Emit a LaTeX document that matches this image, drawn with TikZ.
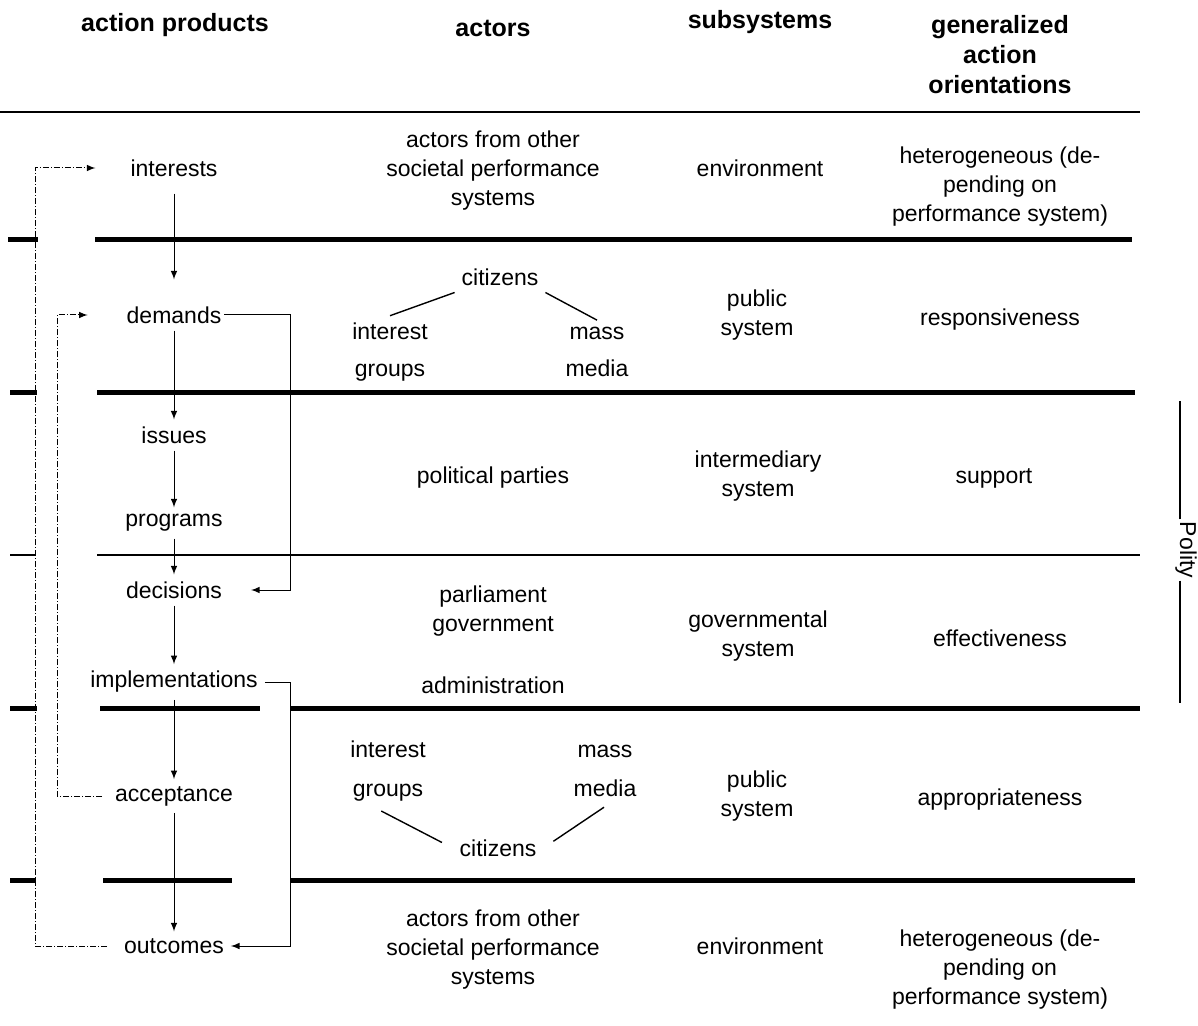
\documentclass[tikz,border=0pt]{standalone}
\usepackage{fontspec}
\setmainfont{Liberation Sans}
\usepackage{tikz}
\usetikzlibrary{positioning}

\begin{document}
\begin{tikzpicture}
		[
		x=0.5pt, y=-0.5pt, font=\fontsize{11.5}{14.5}\selectfont, >=latex,
		%Voreinstellungen
		head/.style={font=\fontsize{12.5}{15}\selectfont\bfseries, align=center},
		txt/.style={align=center},
		bar/.style={line width=2.5pt},
		thinline/.style={line width=0.7pt},
		flow/.style={-latex, line width=0.5pt},
		fb/.style={-latex, line width=0.5pt, densely dash dot},
		]
		
		%Rahmen
		\useasboundingbox (0,0) rectangle (1198,1026);
		
		%Kopfzeile
		\node[head] (hprod) at (175,25) {action products};
		\node[head] (hact) at (493,28) {actors};
		\node[head] (hsub) at (760,22) {subsystems};
		\node[head] (hori) at (1000,55) {generalized\\action\\orientations};
		
		\draw[thinline] (0,112) -- (1140,112);
		
		%dicke Trennlinien
		\draw[bar] (8,240) -- (38,240) (95,240) -- (1132,240);
		\draw[bar] (10,392) -- (37,392) (97,392) -- (1135,392);
		\draw[thinline] (10,555) -- (35,555) (97,555) -- (1140,555);
		\draw[bar] (10,708) -- (37,708) (100,708) -- (260,708) (290,708) -- (1140,708);
		\draw[bar] (10,880) -- (36,880) (103,880) -- (232,880) (290,880) -- (1135,880);
		
		%Handlungsprodukte
		\node (interests) at (174,168) {interests};
		\node (demands) at (174,315) {demands};
		\node (issues) at (174,435) {issues};
		\node (programs) at (174,523) {programs};
		\node (decisions) at (174,590) {decisions};
		\node (implementations) at (174,682) {implementations};
		\node (acceptance) at (174,796) {acceptance};
		\node (outcomes) at (174,946) {outcomes};
		
		%Pfeile in der Spalte
		\draw[flow, shorten <=5pt, shorten >=10pt] (interests) -- (demands);
		\foreach \a/\b in {demands/issues, issues/programs, programs/decisions, decisions/implementations, implementations/acceptance, acceptance/outcomes}
		\draw[flow] (\a) -- (\b);
		
		%Rueckkopplungen links
		\coordinate (outerx) at (35,0);
		\coordinate (innerx) at (57,0);
		\draw[fb, shorten <=5pt, shorten >=14pt] (outcomes.west) -- (outcomes.west -| outerx) |- (interests.west);
		\draw[fb, shorten <=3pt, shorten >=16pt] (acceptance.west) -- (acceptance.west -| innerx) |- (demands.west);
		
		%Rueckkopplungen rechts
		\coordinate (rightx) at (290,0);
		\draw[flow, shorten <=-2pt, shorten >=11pt] (demands.east) -- (demands.east -| rightx) |- (decisions.east);
		\draw[flow] (implementations.east) -- (implementations.east -| rightx) |- (outcomes.east);
		
		%Akteure
		\node[txt] (otherA) at (493,171) {actors from other\\societal performance\\systems};
		\node (citizensA) at (500,277) {citizens};
		\node[txt] (groupsA) at (390,352) {interest\\[4pt]groups};
		\node[txt] (mediaA) at (597,352) {mass\\[4pt]media};
		\draw[thinline] (citizensA.south west) -- (groupsA.north);
		\draw[thinline] (citizensA.south east) -- (mediaA.north);
		
		\node (parties) at (493,478) {political parties};
		\node[txt] (parl) at (493,611) {parliament\\government};
		\node (admin) at (493,685) {administration};
		
		\node[txt] (groupsB) at (388,771) {interest\\[5pt]groups};
		\node[txt] (mediaB) at (605,771) {mass\\[5pt]media};
		\node (citizensB) at (498,848) {citizens};
		\draw[thinline, shorten <=3pt, shorten >=6pt] ([xshift=-6pt]groupsB.south) -- (citizensB.west);
		\draw[thinline, shorten <=3pt, shorten >=6pt] ([xshift=2pt]mediaB.south) -- (citizensB.east);
		
		\node[txt] (otherB) at (493,950) {actors from other\\societal performance\\systems};
		
		%Teilsysteme
		\node (envA) at (760,168) {environment};
		\node[txt] (pubA) at (757,315) {public\\system};
		\node[txt] (interm) at (758,476) {intermediary\\system};
		\node[txt] (govsys) at (758,636) {governmental\\system};
		\node[txt] (pubB) at (757,796) {public\\system};
		\node (envB) at (760,946) {environment};
		
		%Handlungsorientierungen
		\node[txt] (hetA) at (1000,187) {heterogeneous (de-\\pending on\\performance system)};
		\node (resp) at (1000,320) {responsiveness};
		\node (supp) at (994,478) {support};
		\node (eff) at (1000,638) {effectiveness};
		\node (appr) at (1000,800) {appropriateness};
		\node[txt] (hetB) at (1000,970) {heterogeneous (de-\\pending on\\performance system)};
		
		%Polity
		\node[rotate=-90, inner sep=1pt] (polity) at (1186,550) {Polity};
		\draw[thinline] (polity.base west) -- ++(0,-118);
		\draw[thinline] (polity.base east) -- ++(0,122);
		
\end{tikzpicture}
\end{document}
